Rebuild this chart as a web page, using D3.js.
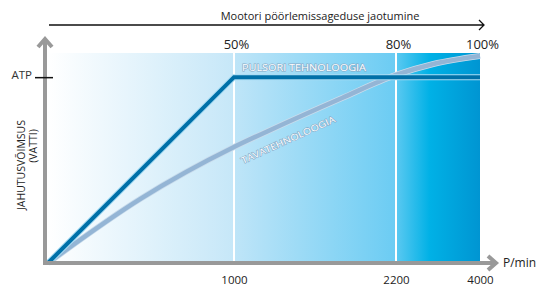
<!DOCTYPE html>
<html>
  <head>
    <meta charset="utf-8">
    <script src="https://unpkg.com/d3@7/dist/d3.min.js"></script>
    <style>
      body { margin: 0; background: #fff; }
      text { font-family: "Open Sans", sans-serif; fill: #222; }
      .axis path.domain { display: none; }
    </style>
  </head>
  <body>
    <script>
      // zones on the rpm axis (uneven, schematic)
      const zoneRpm = [0, 1000, 2200, 4000];
      const rpmLabels = ['1000', '2200', '4000'];
      const pctLabels = ['50%', '80%', '100%'];

      // cooling power, ATP = 1
      const pulsoriRpm = [0, 1000, 4000];
      const pulsoriVal = [0, 1, 1];
      const tavaRpm = [0, 495, 1000, 1270, 1800, 2200, 3000, 4000];
      const tavaVal = [0, 0.344, 0.624, 0.716, 0.888, 1.012, 1.071, 1.114];

      const width = 541;
      const height = 291;

      const x = d3.scaleLinear()
        .domain(zoneRpm)
        .range([48, 234, 396, 480]);

      const y = d3.scaleLinear()
        .domain([0, 1.13])
        .range([263, 53]);

      const svg = d3.select('body')
        .append('svg')
        .attr('width', width)
        .attr('height', height);

      const defs = svg.append('defs');
      const zoneStops = [
        [[0, '#ffffff'], [1, '#c6e7f8']],
        [[0, '#bfe5f8'], [1, '#6bccf3']],
        [[0, '#5cc9f1'], [0.4, '#00b1e6'], [1, '#0095d2']]
      ];
      zoneStops.forEach((stops, i) => {
        const g = defs.append('linearGradient')
          .attr('id', 'zone' + i)
          .attr('gradientUnits', 'userSpaceOnUse')
          .attr('x1', x(zoneRpm[i])).attr('x2', x(zoneRpm[i + 1]))
          .attr('y1', 0).attr('y2', 0);
        stops.forEach(s => g.append('stop').attr('offset', s[0]).attr('stop-color', s[1]));
      });

      // background zones
      svg.selectAll('rect.zone').data(d3.range(3))
        .enter()
        .append('rect')
        .attr('x', i => x(zoneRpm[i]))
        .attr('y', y(1.13))
        .attr('width', i => x(zoneRpm[i + 1]) - x(zoneRpm[i]))
        .attr('height', y(0) - y(1.13))
        .style('fill', i => 'url(#zone' + i + ')');

      // white separators
      svg.selectAll('line.sep').data(zoneRpm.slice(1, 3))
        .enter()
        .append('line')
        .attr('x1', d => x(d)).attr('x2', d => x(d))
        .attr('y1', y(1.13)).attr('y2', y(0))
        .style('stroke', '#fff')
        .style('stroke-width', 2);

      // curves
      const tava = tavaRpm.map((d, i) => [d, tavaVal[i]]);
      const pulsori = pulsoriRpm.map((d, i) => [d, pulsoriVal[i]]);
      const line = d3.line().x(d => x(d[0])).y(d => y(d[1]));

      svg.append('path')
        .attr('d', line.curve(d3.curveMonotoneX)(tava))
        .style('fill', 'none')
        .style('stroke', '#c9dcec')
        .style('stroke-width', 6);
      svg.append('path')
        .attr('d', line.curve(d3.curveMonotoneX)(tava))
        .style('fill', 'none')
        .style('stroke', '#94b5d5')
        .style('stroke-width', 4.5);

      svg.append('path')
        .attr('d', line.curve(d3.curveLinear)(pulsori))
        .style('fill', 'none')
        .style('stroke', '#a9dcf3')
        .style('stroke-width', 6);
      svg.append('path')
        .attr('d', line.curve(d3.curveLinear)(pulsori))
        .style('fill', 'none')
        .style('stroke', '#0070a8')
        .style('stroke-width', 4);

      // curve labels
      svg.append('text')
        .attr('x', 242).attr('y', y(1) - 6)
        .attr('textLength', 124)
        .attr('lengthAdjust', 'spacingAndGlyphs')
        .style('font-size', '9px')
        .style('fill', '#fff')
        .style('stroke', '#86a9c6')
        .style('stroke-width', 1.1)
        .style('paint-order', 'stroke')
        .text('PULSORI TEHNOLOOGIA');

      svg.append('text')
        .attr('transform', 'translate(243,164) rotate(-24.5)')
        .attr('textLength', 102)
        .attr('lengthAdjust', 'spacingAndGlyphs')
        .style('font-size', '9px')
        .style('fill', '#fff')
        .style('stroke', '#86a9c6')
        .style('stroke-width', 1.1)
        .style('paint-order', 'stroke')
        .text('TAVATEHNOLOOGIA');

      // gray axes with arrows
      const axisStyle = s => s.style('fill', 'none').style('stroke', '#999').style('stroke-width', 4);
      svg.append('path').attr('d', 'M45,265V39').call(axisStyle);
      svg.append('path').attr('d', 'M38,47L45,39L52,47').call(axisStyle);
      svg.append('path').attr('d', 'M43,263H495').call(axisStyle);
      svg.append('path').attr('d', 'M488,256L496,263L488,270').call(axisStyle);

      svg.append('text')
        .attr('x', 503).attr('y', 267)
        .style('font-size', '12px')
        .text('P/min');

      // ATP tick
      const yAxis = d3.axisLeft(y)
        .tickValues([1])
        .tickFormat(() => 'ATP')
        .tickSize(18)
        .tickPadding(3);
      const ya = svg.append('g')
        .attr('class', 'axis')
        .attr('transform', 'translate(53,0)')
        .call(yAxis);
      ya.selectAll('line').style('stroke', '#111').style('stroke-width', 1.5);
      ya.selectAll('text').style('font-size', '11.5px').style('fill', '#333').attr('dy', '0.1em');

      // rpm labels
      const xAxis = d3.axisBottom(x)
        .tickValues(zoneRpm.slice(1))
        .tickFormat((d, i) => rpmLabels[i])
        .tickSize(0)
        .tickPadding(0);
      const xa = svg.append('g')
        .attr('class', 'axis')
        .attr('transform', 'translate(0,276)')
        .call(xAxis);
      xa.selectAll('text').style('font-size', '11.5px').style('fill', '#222');

      // percent labels
      const pAxis = d3.axisTop(x)
        .tickValues(zoneRpm.slice(1))
        .tickFormat((d, i) => pctLabels[i])
        .tickSize(0)
        .tickPadding(0);
      const pa = svg.append('g')
        .attr('class', 'axis')
        .attr('transform', 'translate(2,49)')
        .call(pAxis);
      pa.selectAll('text').style('font-size', '13px').style('fill', '#222').attr('dy', 0);

      // top arrow
      svg.append('path')
        .attr('d', 'M49,25H484M479,20L484,25L479,30')
        .style('fill', 'none')
        .style('stroke', '#111')
        .style('stroke-width', 1.3);
      svg.append('text')
        .attr('x', 320).attr('y', 20)
        .attr('text-anchor', 'middle')
        .style('font-size', '11px')
        .text('Mootori pöörlemissageduse jaotumine');

      // y title
      svg.append('text')
        .attr('transform', 'translate(21,165) rotate(-90)')
        .attr('text-anchor', 'middle')
        .attr('dy', '0.35em')
        .style('font-size', '10.5px')
        .text('JAHUTUSVÕIMSUS');
      svg.append('text')
        .attr('transform', 'translate(33,146) rotate(-90)')
        .attr('text-anchor', 'middle')
        .attr('dy', '0.35em')
        .style('font-size', '10.5px')
        .text('(VATTI)');
    </script>
  </body>
</html>
